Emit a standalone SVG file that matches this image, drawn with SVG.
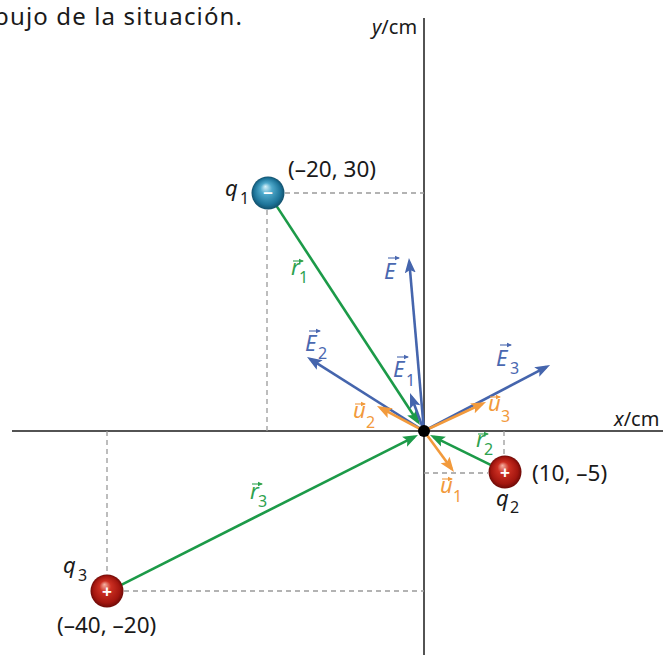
<svg xmlns="http://www.w3.org/2000/svg" width="663" height="655" viewBox="0 0 663 655">
<style>
text{font-family:"Noto Sans","Open Sans","Liberation Sans",sans-serif;font-weight:normal;}
.t{font-size:22.5px;fill:#1a1a1a;}
.ax{font-size:20px;fill:#1a1a1a;}
.lab{font-size:22px;font-style:italic;}
.sub{font-size:16px;font-style:normal;}
.g{fill:#2ea24f;} .b{fill:#4a68b0;} .o{fill:#f29a3c;} .k{fill:#1a1a1a;}
.axis{stroke:#1a1a1a;stroke-width:1.5;fill:none;}
.dash{stroke:#9a9a9a;stroke-width:1.3;stroke-dasharray:5 4;fill:none;}
.vg{stroke:#1c9a48;stroke-width:2.6;fill:none;marker-end:url(#ag);}
.vb{stroke:#4565ad;stroke-width:2.6;fill:none;marker-end:url(#ab);}
.vo{stroke:#f29a3c;stroke-width:2.6;fill:none;marker-end:url(#ao);}
.sa{stroke-width:1.1;fill:none;}
.sg{stroke:#2ea24f;marker-end:url(#sg);} .sb{stroke:#4a68b0;marker-end:url(#sb);} .so{stroke:#f29a3c;marker-end:url(#so);}
.sign{font-family:"Liberation Sans",sans-serif;font-weight:bold;font-size:17px;fill:#fff;text-anchor:middle;}
</style>
<defs>
<marker id="ag" markerUnits="userSpaceOnUse" markerWidth="16" markerHeight="12" viewBox="0 -6 16 12" refX="11" refY="0" orient="auto"><path d="M0,-5.5 L15,0 L0,5.5 L3,0 z" fill="#1c9a48"/></marker>
<marker id="ab" markerUnits="userSpaceOnUse" markerWidth="16" markerHeight="12" viewBox="0 -6 16 12" refX="11" refY="0" orient="auto"><path d="M0,-5.5 L15,0 L0,5.5 L3,0 z" fill="#4565ad"/></marker>
<marker id="ao" markerUnits="userSpaceOnUse" markerWidth="16" markerHeight="12" viewBox="0 -6 16 12" refX="11" refY="0" orient="auto"><path d="M0,-5.5 L15,0 L0,5.5 L3,0 z" fill="#f29a3c"/></marker>
<marker id="sg" markerUnits="userSpaceOnUse" markerWidth="6" markerHeight="6" viewBox="0 -3 6 6" refX="4" refY="0" orient="auto"><path d="M0,-2.2 L5,0 L0,2.2 z" fill="#2ea24f"/></marker>
<marker id="sb" markerUnits="userSpaceOnUse" markerWidth="6" markerHeight="6" viewBox="0 -3 6 6" refX="4" refY="0" orient="auto"><path d="M0,-2.2 L5,0 L0,2.2 z" fill="#4a68b0"/></marker>
<marker id="so" markerUnits="userSpaceOnUse" markerWidth="6" markerHeight="6" viewBox="0 -3 6 6" refX="4" refY="0" orient="auto"><path d="M0,-2.2 L5,0 L0,2.2 z" fill="#f29a3c"/></marker>
<radialGradient id="gblue" cx="0.5" cy="0.5" r="0.5" fx="0.42" fy="0.3">
<stop offset="0" stop-color="#d8f2fa"/><stop offset="0.35" stop-color="#4fa9cb"/><stop offset="0.8" stop-color="#1d7499"/><stop offset="1" stop-color="#12506c"/>
</radialGradient>
<radialGradient id="gred" cx="0.5" cy="0.5" r="0.5" fx="0.42" fy="0.3">
<stop offset="0" stop-color="#f6b3a4"/><stop offset="0.35" stop-color="#cc2f22"/><stop offset="0.8" stop-color="#a3160f"/><stop offset="1" stop-color="#6e0a07"/>
</radialGradient>
</defs>

<text class="t" x="-6" y="25" style="font-size:24px" textLength="248" lengthAdjust="spacing">bujo de la situación.</text>

<g id="axes">
<line class="axis" x1="12" y1="431" x2="663" y2="431"/>
<line class="axis" x1="424" y1="18" x2="424" y2="655"/>
<text class="ax" x="372" y="34"><tspan font-style="italic">y</tspan>/cm</text>
<text class="ax" x="614" y="426"><tspan font-style="italic">x</tspan>/cm</text>
</g>

<g id="guides">
<line class="dash" x1="285" y1="193" x2="424" y2="193"/>
<line class="dash" x1="267" y1="210" x2="267" y2="431"/>
<line class="dash" x1="424" y1="473" x2="488" y2="473"/>
<line class="dash" x1="504" y1="431" x2="504" y2="456"/>
<line class="dash" x1="107" y1="431" x2="107" y2="575"/>
<line class="dash" x1="124" y1="591" x2="424" y2="591"/>
</g>

<g id="connectors">
<line class="vg" x1="276.8" y1="206.4" x2="417.8" y2="421.7"/>
<line class="vg" x1="490.6" y1="464.9" x2="433.6" y2="436.8"/>
<line class="vg" x1="121.3" y1="584.8" x2="414.4" y2="436.8"/>
<line class="vb" x1="424" y1="431" x2="409.3" y2="262"/>
<line class="vb" x1="424" y1="431" x2="310.4" y2="359.1"/>
<line class="vb" x1="424" y1="431" x2="411.4" y2="396.8"/>
<line class="vb" x1="424" y1="431" x2="546.5" y2="366.9"/>
<line class="vo" x1="424" y1="431" x2="380.5" y2="407.9"/>
<line class="vo" x1="424" y1="431" x2="482.4" y2="403.7"/>
<line class="vo" x1="424" y1="431" x2="451.6" y2="468.8"/>
</g>

<g id="origin"><circle cx="424" cy="431" r="6" fill="#000"/></g>

<g id="labels">
<g id="lab-r1"><line class="sa sg" x1="293" y1="261" x2="303" y2="261"/><text class="lab g" x="291" y="275">r</text><text class="sub g" x="299" y="283">1</text></g>
<g id="lab-r2"><line class="sa sg" x1="478" y1="434" x2="488" y2="434"/><text class="lab g" x="476" y="447">r</text><text class="sub g" x="484" y="455">2</text></g>
<g id="lab-r3"><line class="sa sg" x1="252" y1="484" x2="262" y2="484"/><text class="lab g" x="250" y="499">r</text><text class="sub g" x="258" y="507">3</text></g>
<g id="lab-E"><line class="sa sb" x1="388" y1="258" x2="399" y2="258"/><text class="lab b" x="384" y="279">E</text></g>
<g id="lab-E1"><line class="sa sb" x1="397" y1="357" x2="408" y2="357"/><text class="lab b" x="393" y="377">E</text><text class="sub b" x="406" y="386">1</text></g>
<g id="lab-E2"><line class="sa sb" x1="309" y1="331" x2="320" y2="331"/><text class="lab b" x="305" y="351">E</text><text class="sub b" x="318" y="359">2</text></g>
<g id="lab-E3"><line class="sa sb" x1="500" y1="345" x2="511" y2="345"/><text class="lab b" x="496" y="366">E</text><text class="sub b" x="510" y="374">3</text></g>
<g id="lab-u1"><line class="sa so" x1="442" y1="479" x2="452" y2="479"/><text class="lab o" x="440" y="493">u</text><text class="sub o" x="453" y="502">1</text></g>
<g id="lab-u2"><line class="sa so" x1="355" y1="404" x2="365" y2="404"/><text class="lab o" x="353" y="418">u</text><text class="sub o" x="366" y="428">2</text></g>
<g id="lab-u3"><line class="sa so" x1="490" y1="397" x2="500" y2="397"/><text class="lab o" x="488" y="411">u</text><text class="sub o" x="501" y="422">3</text></g>
</g>

<g id="q1">
<circle cx="268" cy="193" r="16.5" fill="url(#gblue)"/>
<text class="sign" x="268" y="198">–</text>
<text class="lab k" x="225" y="196">q</text><text class="sub k" x="240" y="204">1</text>
<text class="t" x="288" y="177">(–20, 30)</text>
</g>

<g id="q2">
<circle cx="505" cy="472" r="16.5" fill="url(#gred)"/>
<text class="sign" x="505" y="478">+</text>
<text class="lab k" x="496" y="506">q</text><text class="sub k" x="510" y="513">2</text>
<text class="t" x="532" y="481">(10, –5)</text>
</g>

<g id="q3">
<circle cx="107" cy="591" r="16.5" fill="url(#gred)"/>
<text class="sign" x="107" y="597">+</text>
<text class="lab k" x="63" y="573">q</text><text class="sub k" x="78" y="581">3</text>
<text class="t" x="57" y="633">(–40, –20)</text>
</g>
</svg>
